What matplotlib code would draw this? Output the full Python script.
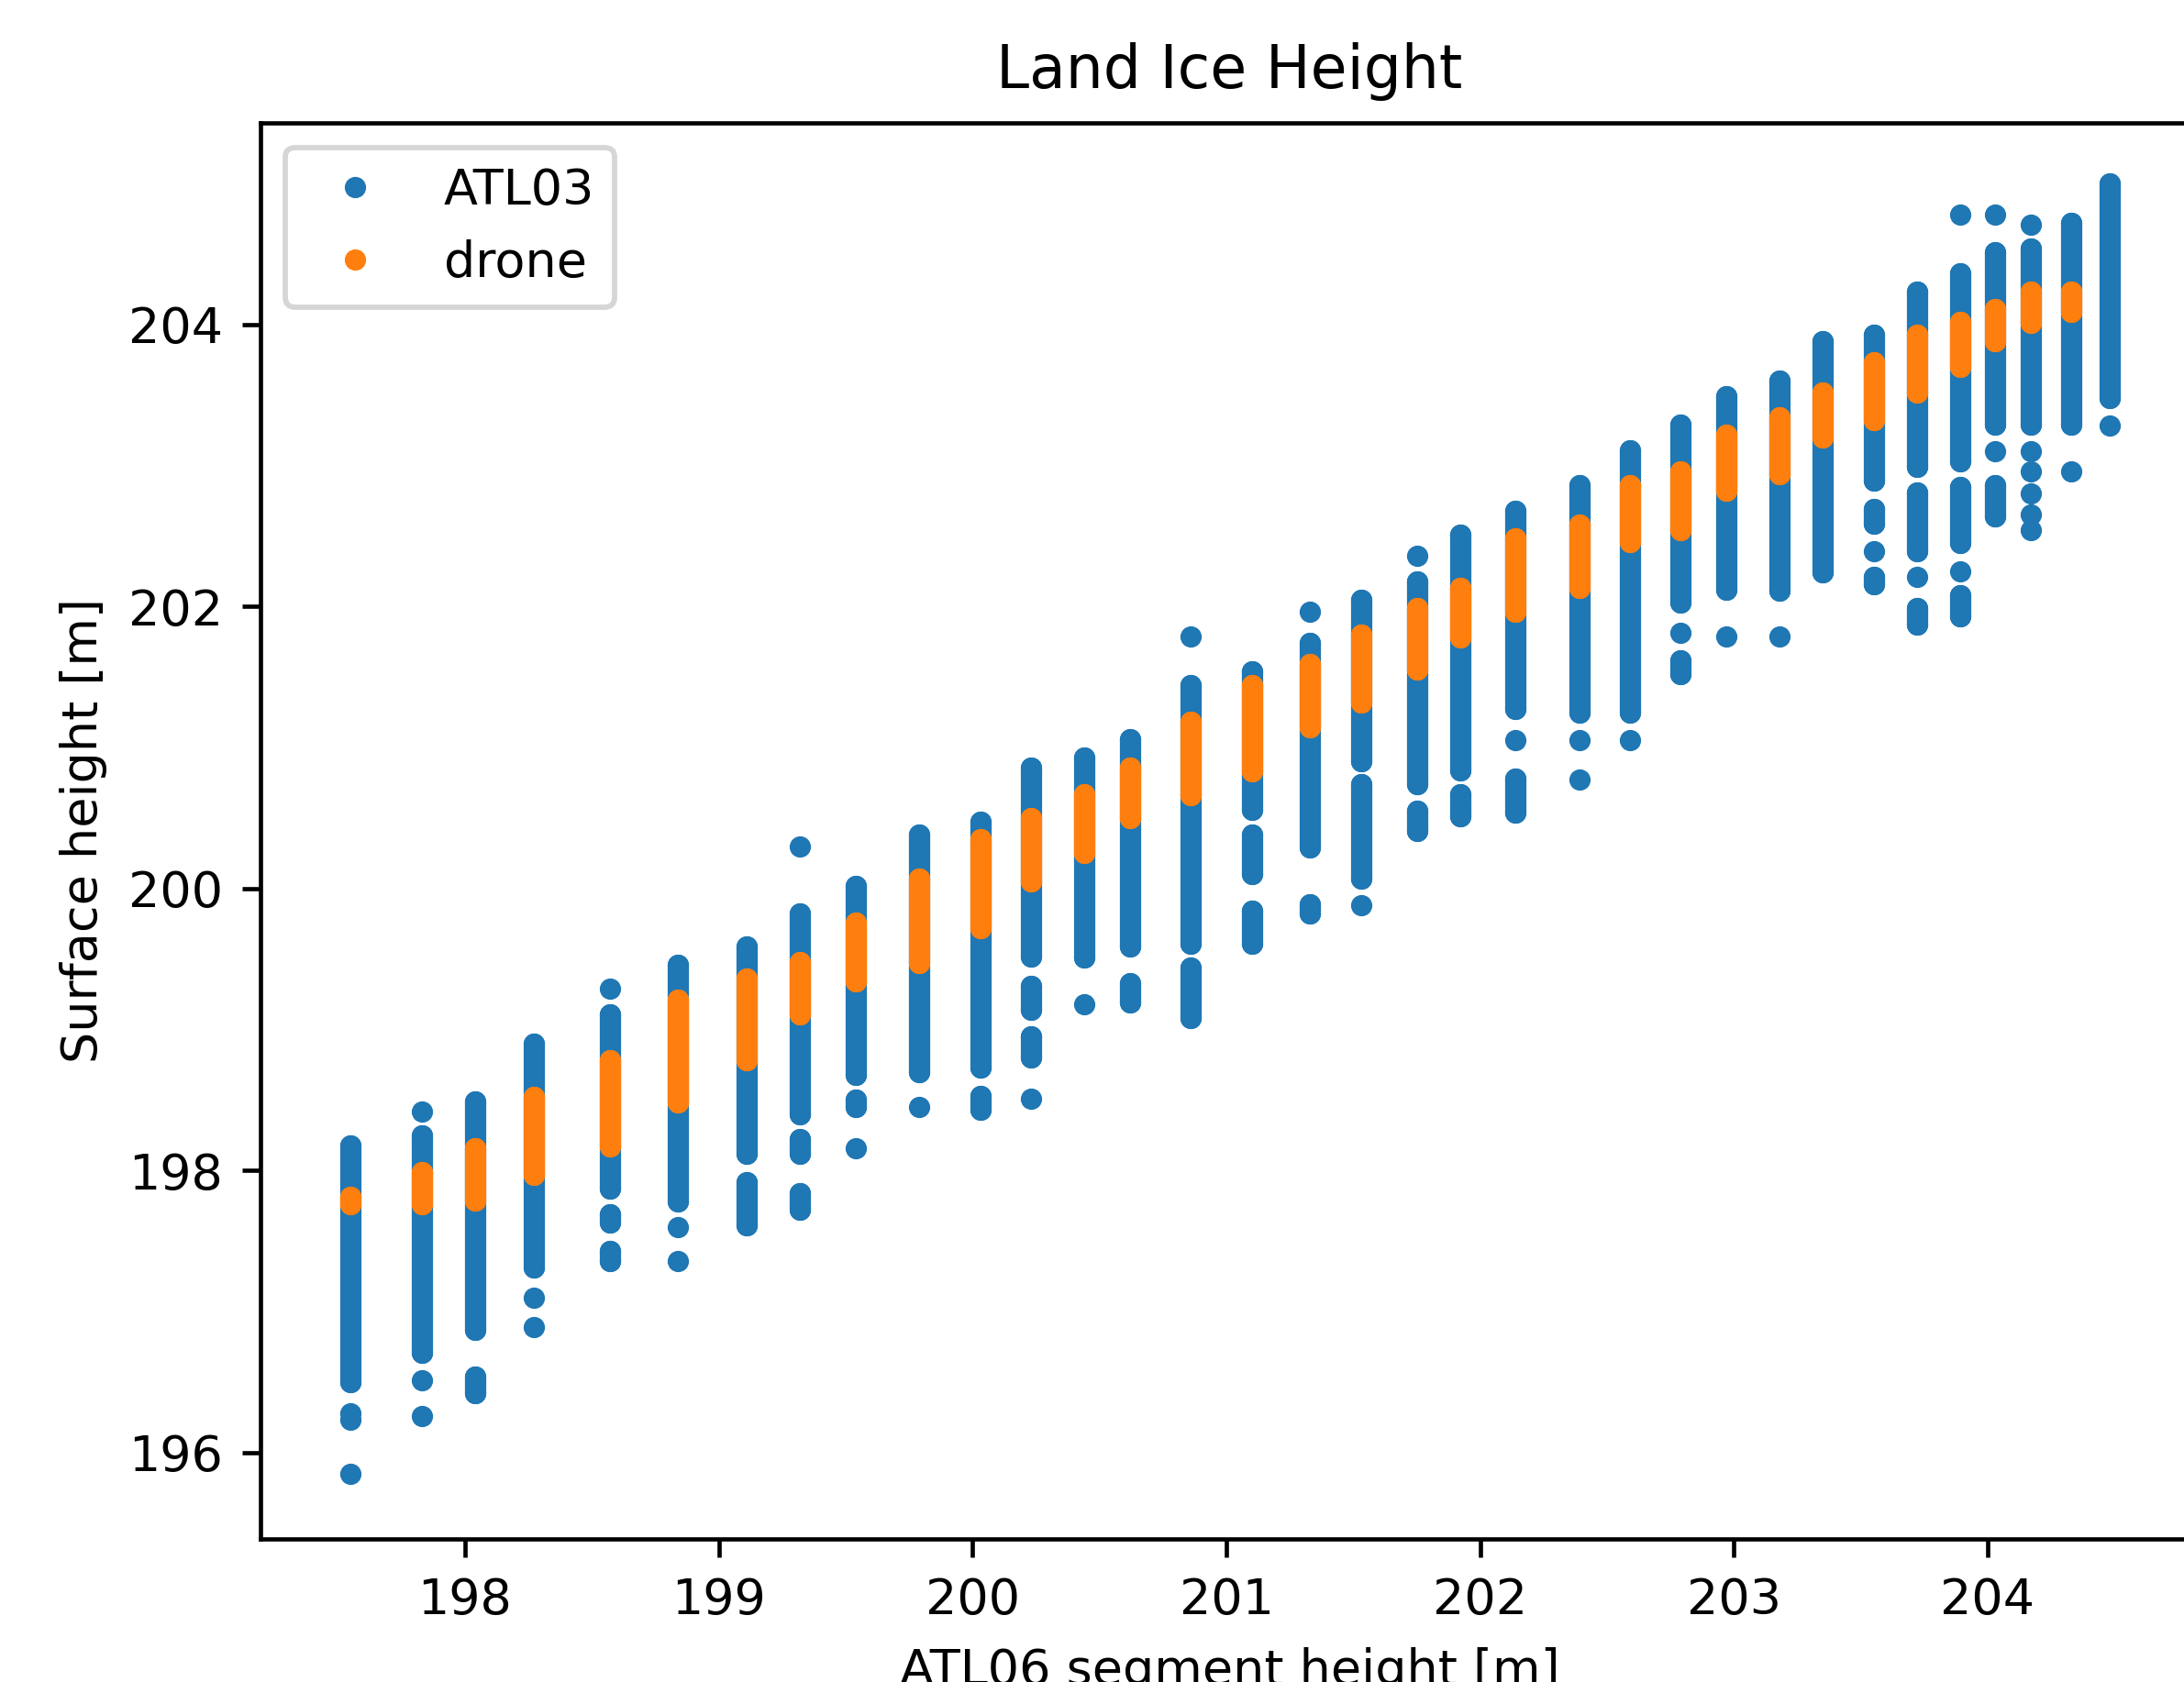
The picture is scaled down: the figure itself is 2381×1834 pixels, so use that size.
import matplotlib
matplotlib.use("Agg")
import matplotlib.pyplot as plt

# ---- data ----
# x position of each ATL06 segment column
col_x = [197.55, 197.83, 198.04, 198.27, 198.57, 198.84, 199.11, 199.32, 199.54, 199.79,
         200.03, 200.23, 200.44, 200.62, 200.86, 201.10, 201.33, 201.53, 201.75, 201.92,
         202.14, 202.39, 202.59, 202.79, 202.97, 203.18, 203.35, 203.55, 203.72, 203.89,
         204.03, 204.17, 204.33, 204.48]

# ATL03: dense runs of overlapping photons (column index, lowest, highest)
atl03_run_col = [0, 1, 2, 2, 3, 4, 4, 4, 5, 6, 6, 7, 7, 7, 8, 8, 9, 10, 10,
                 11, 11, 11, 12, 13, 13, 14, 14, 15, 15, 15, 16, 16, 17, 17,
                 18, 18, 19, 19, 20, 20, 21, 22, 23, 23, 24, 25, 26,
                 27, 27, 27, 28, 28, 28, 29, 29, 29, 30, 30, 31, 32, 33]
atl03_run_lo = [196.50, 196.71, 196.87, 196.42, 197.31, 197.87, 197.63, 197.36, 197.78,
                198.12, 197.61, 198.40, 198.12, 197.72, 198.68, 198.45, 198.70, 198.73, 198.43,
                199.52, 199.14, 198.80, 199.51, 199.59, 199.19, 199.61, 199.08, 200.56, 200.10,
                199.61, 200.29, 199.82, 200.90, 200.07, 200.74, 200.41, 200.84, 200.51, 201.27,
                200.54, 201.25, 201.25, 202.03, 201.52, 202.12, 202.11, 202.24, 202.89, 202.59,
                202.16, 202.99, 202.39, 201.87, 203.03, 202.45, 201.93, 203.29, 202.64, 203.29,
                203.29, 203.48]
atl03_run_hi = [198.18, 198.25, 198.49, 196.54, 198.90, 199.11, 197.69, 197.43, 199.46,
                199.59, 197.92, 199.82, 198.22, 197.84, 200.02, 198.50, 200.38, 200.47, 198.53,
                200.86, 199.31, 198.95, 200.93, 201.06, 199.33, 201.44, 199.44, 201.54, 200.38,
                199.84, 201.74, 199.89, 202.05, 200.74, 202.18, 200.55, 202.51, 200.67, 202.68,
                200.78, 202.86, 203.11, 203.29, 201.62, 203.49, 203.60, 203.88, 203.93, 202.69,
                202.21, 204.23, 202.81, 201.99, 204.36, 202.85, 202.08, 204.51, 202.86, 204.54,
                204.72, 205.00]

# ATL03: isolated photons (column index, height)
atl03_dot_col = [0, 0, 0, 1, 1, 1, 3, 3, 4, 5, 5, 7, 8, 9, 11, 12, 14, 16, 17, 18,
                 20, 21, 21, 22, 23, 24, 25, 27, 28, 29, 29, 30, 30, 31, 31, 31, 31,
                 31, 31, 32, 33]
atl03_dot_y = [196.23, 196.28, 195.85, 198.42, 196.51, 196.26, 197.10, 196.89, 199.29,
               197.60, 197.36, 200.30, 198.16, 198.45, 198.51, 199.18, 201.79, 201.96,
               199.88, 202.36, 201.05, 201.05, 200.77, 201.05, 201.81, 201.79, 201.79,
               202.39, 202.21, 204.78, 202.25, 204.78, 203.10, 204.71, 203.10, 202.96,
               202.80, 202.65, 202.54, 202.96, 203.28]

# drone heights: range per column (first 33 columns)
drone_lo = [197.76, 197.76, 197.79, 197.97, 198.17, 198.48, 198.78, 199.11, 199.34, 199.47,
            199.72, 200.05, 200.25, 200.50, 200.66, 200.83, 201.14, 201.32, 201.55, 201.78,
            201.96, 202.13, 202.46, 202.54, 202.82, 202.94, 203.20, 203.32, 203.52, 203.70,
            203.88, 204.01, 204.09]
drone_hi = [197.81, 197.99, 198.16, 198.52, 198.78, 199.21, 199.36, 199.48, 199.76, 200.07,
            200.35, 200.50, 200.67, 200.86, 201.18, 201.44, 201.59, 201.80, 201.99, 202.13,
            202.48, 202.58, 202.86, 202.96, 203.22, 203.34, 203.52, 203.73, 203.93, 204.02,
            204.11, 204.23, 204.23]

title = "Land Ice Height"
xlabel = "ATL06 segment height [m]"
ylabel = "Surface height [m]"

# ---- figure ----
plt.rcParams["font.size"] = 9.3

DPI = 418
W, H = 2381, 1834
fig = plt.figure(figsize=(W / DPI, H / DPI), dpi=DPI)

xlim = (197.194, 204.83)
ylim = (195.387, 205.432)
left_px, bottom_px, top_px = 284, 1678, 133.6
px_per_x = 276.67
ax_w_px = (xlim[1] - xlim[0]) * px_per_x
ax = fig.add_axes([left_px / W, 1 - bottom_px / H, ax_w_px / W, (bottom_px - top_px) / H])

blue = "#1f77b4"
orange = "#ff7f0e"
mark_pt = 4.0  # '.' marker (3pt) + 1pt edge

run_x = [col_x[i] for i in atl03_run_col]
ax.vlines(run_x, atl03_run_lo, atl03_run_hi, colors=blue, linewidth=mark_pt,
          capstyle="round", zorder=2)
dot_x = [col_x[i] for i in atl03_dot_col]
ax.plot(dot_x + run_x + run_x, atl03_dot_y + atl03_run_lo + atl03_run_hi, ".",
        color=blue, label="ATL03", zorder=2)

dx = col_x[:len(drone_lo)]
ax.vlines(dx, drone_lo, drone_hi, colors=orange, linewidth=mark_pt,
          capstyle="round", zorder=3)
ax.plot(dx + dx, drone_lo + drone_hi, ".", color=orange, label="drone", zorder=3)

ax.set_xlim(*xlim)
ax.set_ylim(*ylim)
ax.set_xticks([198, 199, 200, 201, 202, 203, 204])
ax.set_yticks([196, 198, 200, 202, 204])
ax.set_title(title, pad=6.5)
ax.set_xlabel(xlabel, labelpad=4.3)
ax.set_ylabel(ylabel)
ax.legend(loc="upper left")

fig.savefig("out.png", dpi=DPI)
